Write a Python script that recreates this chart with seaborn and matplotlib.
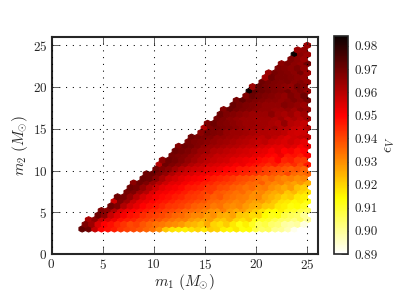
import numpy as np
import matplotlib
matplotlib.use("Agg")
import matplotlib.pyplot as plt
import seaborn as sns

# efficiency per hexagon (x 1000), one list per row from m2 = 3 upward,
# every row runs left to right and ends at the right edge of the triangle
r00 = [972,970,958,950,948,946,943,941,940,938,936,934,930,922,918,917,916,918,920,917,921,920,916,915,917,913,914,908,905,906,901,900,897,892,890,890]
r01 = [968,964,955,950,948,945,943,940,941,938,936,934,933,931,930,928,925,924,922,926,920,918,921,917,913,916,911,906,908,904,903,899,898,899,893]
r02 = [962,966,958,955,952,948,946,945,942,941,939,938,936,934,932,932,929,927,925,928,923,922,925,920,918,921,913,911,910,907,905,904,902,905,900]
r03 = [970,966,958,954,951,948,947,944,942,941,940,938,936,935,933,931,931,928,930,926,925,927,922,921,919,920,914,912,913,908,906,905,900]
r04 = [968,966,961,955,952,950,948,946,944,943,941,940,938,936,935,934,932,930,929,932,928,926,928,924,921,918,915,914,916,912,910,908,906]
r05 = [970,968,961,956,953,950,948,947,945,943,942,941,939,937,936,935,933,934,931,930,931,928,926,925,922,921,917,916,913,914,911]
r06 = [957,968,964,958,954,952,950,948,947,945,943,942,941,939,938,936,935,934,933,931,932,929,927,928,925,922,918,917,915,916,913]
r07 = [970,969,965,960,956,953,951,949,948,946,945,943,942,941,939,937,938,935,934,933,932,930,931,927,925,923,920,921,917,916]
r08 = [969,968,963,960,955,952,951,949,948,946,944,943,941,942,938,937,936,934,935,932,930,931,928,926,927,922,924,920,918]
r09 = [970,969,965,961,957,954,952,951,949,947,946,945,943,942,940,939,937,936,934,935,932,933,930,928,926,928,923,921]
r10 = [966,970,968,964,960,957,954,953,951,949,948,946,945,943,942,941,939,938,936,935,937,933,931,932,929,927,929,925]
r11 = [971,970,966,962,958,956,954,952,951,950,948,946,945,944,942,940,939,938,936,934,936,933,931,932,930,931]
r12 = [970,971,968,965,961,958,956,955,953,952,951,949,948,947,947,945,944,943,941,940,938,937,940,935,934,936]
r13 = [970,968,966,963,960,958,957,956,954,953,952,950,949,947,946,945,944,941,940,940,938,937,938,936]
r14 = [960,970,968,966,964,961,959,958,956,955,954,953,951,952,949,948,946,944,946,943,941,944,940,947]
r15 = [966,970,969,967,965,963,961,959,958,957,956,954,953,952,951,949,948,947,950,945,946,943,942]
r16 = [969,968,967,965,963,961,960,958,958,957,956,955,955,953,952,950,949,952,947,948,946,951]
r17 = [970,969,968,966,964,963,961,960,959,958,957,956,955,954,953,951,953,950,951,948,950]
r18 = [967,970,969,967,965,964,963,962,961,960,959,958,958,956,955,954,953,955,954,951,954]
r19 = [969,968,967,966,965,964,963,962,961,960,959,958,959,957,956,955,957,955,953]
r20 = [970,969,968,967,965,965,964,963,962,961,960,959,961,959,957,955,957,958,959]
r21 = [966,969,968,967,965,964,964,963,962,961,961,960,960,959,957,956,957]
r22 = [961,968,969,968,967,966,965,964,963,963,962,964,961,960,958,957,960]
r23 = [968,970,968,967,966,965,964,964,963,963,962,961,965,960,959,958]
r24 = [969,968,966,965,964,964,963,963,963,962,964,960,962,960,963]
r25 = [970,968,967,966,965,964,964,964,966,963,962,964,961,963]
r26 = [967,971,969,968,967,966,965,965,964,964,965,963,966,965]
r27 = [971,969,968,967,966,965,965,965,967,966,965,964]
r28 = [969,972,969,968,967,966,966,965,966,968,966,969]
r29 = [968,971,969,968,967,966,965,968,966,970]
r30 = [984,972,970,969,968,967,969,966,968,965]
r31 = [964,971,969,968,967,966,965,969,967]
r32 = [970,969,968,967,968,966,967,965]
r33 = [963,970,968,968,967,966,965]
r34 = [964,969,968,967,966,969,964]
r35 = [968,967,966,968,965]
r36 = [966,968,966,965,970]
r37 = [968,966,964]
r38 = [984,966,964]
r39 = [964,965]
r40 = [964]

rows = [r00, r01, r02, r03, r04, r05, r06, r07, r08, r09, r10, r11, r12, r13,
        r14, r15, r16, r17, r18, r19, r20, r21, r22, r23, r24, r25, r26, r27,
        r28, r29, r30, r31, r32, r33, r34, r35, r36, r37, r38, r39, r40]

mass_ticks = [0, 5, 10, 15, 20, 25]
eps_ticks = [0.89, 0.90, 0.91, 0.92, 0.93, 0.94, 0.95, 0.96, 0.97, 0.98]

sns.set_style("ticks")
plt.rcParams['font.family'] = ['cmr10', 'DejaVu Sans']
plt.rcParams['mathtext.fontset'] = 'cm'
plt.rcParams['axes.formatter.use_mathtext'] = True

# hexbin lattice: 35 columns over 3..25, alternate rows shifted half a column
gridsize = 35
m_min, m_max = 3.0, 25.0
sx = (m_max - m_min) / gridsize
sy = (m_max - m_min) / int(gridsize / np.sqrt(3))

m1, m2, eps = [], [], []
for k, row in enumerate(rows):
    right_end = m_max - (k % 2) * sx / 2
    m1.extend(right_end - sx * np.arange(len(row))[::-1])
    m2.extend([m_min + k * sy / 2] * len(row))
    eps.extend(np.array(row) / 1000.0)

fig = plt.figure(figsize=(4.15, 2.91), dpi=100)
ax = fig.add_axes([51.5 / 415, 1 - 254 / 291, 266 / 415, 217 / 291])
cax = fig.add_axes([334 / 415, 1 - 254 / 291, 13.5 / 415, 218 / 291])

cmap = sns.color_palette("hot_r", as_cmap=True)
hb = ax.hexbin(m1, m2, C=eps, gridsize=gridsize, extent=(m_min, m_max, m_min, m_max),
               cmap=cmap, vmin=0.89, vmax=0.9843, linewidths=0.8, edgecolors='face')

ax.set_xlim(0, 26)
ax.set_ylim(0, 26)
ax.set_xticks(mass_ticks)
ax.set_yticks(mass_ticks)
ax.set_xlabel(r'$m_1\ (M_{\odot})$', fontsize=11, labelpad=0)
ax.set_ylabel(r'$m_2\ (M_{\odot})$', fontsize=11, labelpad=2)
ax.tick_params(direction='in', length=5, width=0.5, top=True, right=True, labelsize=9.5, pad=3)
ax.set_axisbelow(False)
ax.grid(True, color='black', linewidth=0.75, linestyle=(0, (1, 5.5)))
for spine in ax.spines.values():
    spine.set_linewidth(1.5)
    spine.set_visible(True)

cbar = fig.colorbar(hb, cax=cax, ticks=eps_ticks)
cbar.ax.set_yticklabels([f'{t:.2f}' for t in eps_ticks])
cbar.ax.tick_params(direction='in', length=5, width=0.5, labelsize=9.5, pad=5)
cbar.outline.set_linewidth(1.2)
cbar.set_label(r'$\epsilon_V$', fontsize=11, labelpad=4)

fig.savefig('out.png', dpi=100)
